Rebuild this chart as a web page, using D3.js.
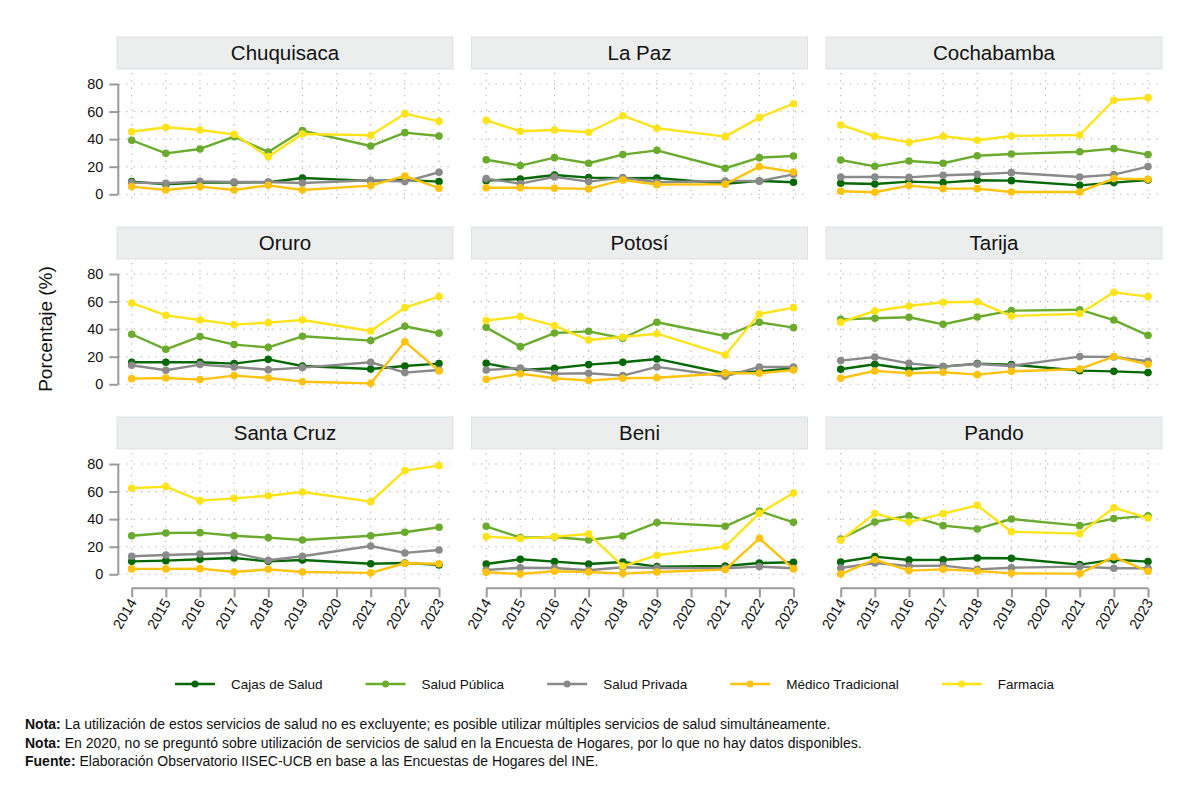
<!DOCTYPE html>
<html><head><meta charset="utf-8">
<script src="https://cdn.jsdelivr.net/npm/d3@7"></script>
<style>
body{margin:0;background:#fff;}
svg{font-family:"Liberation Sans",Arial,sans-serif;}
</style></head><body>
<svg id="chart" width="1200" height="801"></svg>
<script>
const years = [2014,2015,2016,2017,2018,2019,2021,2022,2023];
const axisYears = [2014,2015,2016,2017,2018,2019,2020,2021,2022,2023];
const yTicks = [0,20,40,60,80];
const departments = ["Chuquisaca","La Paz","Cochabamba","Oruro","Potosí","Tarija","Santa Cruz","Beni","Pando"];
const seriesNames = ["Cajas de Salud","Salud Pública","Salud Privada","Médico Tradicional","Farmacia"];
const seriesColors = ["#066806","#6aab2e","#8a8a8a","#ffc20e","#ffe31a"];

// values per department, order of years as above
const cajasDeSalud = [
  [9.2,7.3,8.5,8.5,8.7,11.8,9.7,10.4,9.2],
  [9.9,11.1,14.0,12.1,11.6,11.8,7.7,9.7,8.7],
  [8.0,7.5,9.2,8.5,10.2,9.9,6.5,8.5,10.4],
  [16.0,16.0,16.0,15.0,18.1,13.3,11.1,13.3,15.0],
  [15.2,10.4,11.6,14.3,16.0,18.4,8.0,9.4,11.6],
  [10.9,14.5,10.9,12.8,15.0,14.3,9.9,9.4,8.5],
  [9.4,9.9,10.9,11.8,9.4,10.4,7.7,8.2,6.8],
  [7.5,10.9,9.2,7.5,8.9,5.6,6.0,8.2,8.7],
  [8.9,12.8,10.4,10.6,11.8,11.6,7.0,10.6,9.2]
];
const saludPublica = [
  [39.2,29.7,32.9,41.8,30.7,46.2,35.0,44.7,42.3],
  [25.1,20.8,26.6,22.5,28.8,31.9,18.9,26.6,27.8],
  [24.9,20.3,24.2,22.5,28.0,29.2,30.9,33.1,28.8],
  [36.3,25.4,34.6,28.8,26.8,34.8,31.7,42.1,37.0],
  [41.3,27.3,37.2,38.4,33.4,45.0,35.0,45.0,41.1],
  [47.1,47.9,48.6,43.5,48.8,53.4,54.1,46.6,35.5],
  [28.0,30.0,30.2,28.0,26.6,24.9,28.0,30.5,34.1],
  [34.8,26.6,27.1,24.9,27.8,37.5,34.8,45.9,37.7],
  [25.6,37.9,42.5,35.3,32.9,40.1,35.3,40.4,42.5]
];
const saludPrivada = [
  [8.5,8.0,9.4,8.9,8.9,8.2,10.2,9.2,16.0],
  [11.4,7.7,12.6,9.2,12.1,8.7,9.7,9.7,14.5],
  [12.6,12.6,12.3,13.8,14.5,15.7,12.6,14.3,20.1],
  [13.8,10.2,14.3,12.6,10.6,12.1,16.0,8.5,10.4],
  [10.4,11.8,7.7,8.0,6.3,12.6,5.8,12.6,12.6],
  [17.2,19.8,15.2,12.8,14.7,13.3,20.1,19.8,16.7],
  [13.1,14.0,14.7,15.5,10.2,13.1,20.5,15.5,17.6],
  [3.1,4.8,4.6,2.9,5.1,4.6,4.4,5.6,4.4],
  [4.6,8.2,6.0,6.3,3.6,4.8,5.6,4.4,4.4]
];
const medicoTradicional = [
  [5.6,3.1,5.6,3.1,6.5,3.1,6.3,13.3,4.4],
  [4.8,4.8,4.4,3.9,10.4,7.0,7.3,20.1,16.2],
  [2.2,1.5,6.3,4.1,4.1,1.7,1.7,11.4,10.9],
  [4.1,4.6,3.4,6.3,4.6,1.9,0.7,30.9,9.7],
  [3.6,7.7,4.4,2.7,4.4,4.8,8.0,8.0,10.4],
  [4.4,9.7,8.0,8.7,7.0,9.4,11.1,20.1,14.5],
  [3.9,3.9,4.1,1.7,3.6,1.7,1.0,8.0,7.7],
  [1.5,0.2,2.2,1.7,0.5,1.7,3.4,26.1,3.9],
  [0.2,10.6,2.7,3.6,2.4,0.7,0.5,12.6,2.2]
];
const farmacia = [
  [45.4,48.6,46.6,43.5,27.3,43.7,42.8,58.5,52.9],
  [53.7,45.7,46.6,45.0,57.0,47.9,41.8,55.6,65.7],
  [50.3,42.1,37.7,42.1,39.2,42.3,43.0,68.2,70.1],
  [59.0,50.0,46.6,43.3,44.7,46.6,38.7,55.6,63.6],
  [46.2,49.1,42.5,32.1,34.3,36.7,21.3,51.0,55.6],
  [45.0,53.2,56.8,59.5,59.9,49.5,51.2,66.7,63.6],
  [62.4,63.6,53.4,55.1,57.0,59.7,52.7,75.2,78.8],
  [27.3,25.9,27.3,29.2,6.0,13.8,20.1,44.2,59.0],
  [24.7,44.0,37.9,44.0,50.0,30.9,29.5,48.3,40.8]
];
const seriesData = [cajasDeSalud, saludPublica, saludPrivada, medicoTradicional, farmacia];

const notes = [
  ["Nota:", " La utilización de estos servicios de salud no es excluyente; es posible utilizar múltiples servicios de salud simultáneamente."],
  ["Nota:", " En 2020, no se preguntó sobre utilización de servicios de salud en la Encuesta de Hogares, por lo que no hay datos disponibles."],
  ["Fuente:", " Elaboración Observatorio IISEC-UCB en base a las Encuestas de Hogares del INE."]
];

const svg = d3.select("#chart");
const panelW = 336, colLefts = [117, 471.5, 826];
const headerTops = [37, 227, 417], headerH = 32;
const x = d3.scaleLinear().domain([2014, 2023]).range([14.7, 322]);
const y = d3.scaleLinear().domain([0, 80]).range([157.3, 47]); // relative to header top
const plotTop = headerH + 1, plotBottom = 164;
const FONT = '"Liberation Sans",Arial,sans-serif';

departments.forEach((dep, i) => {
  const col = i % 3, row = Math.floor(i / 3);
  const g = svg.append("g").attr("transform", `translate(${colLefts[col]},${headerTops[row]})`);
  // header
  g.append("rect").attr("x", 0).attr("y", 0).attr("width", panelW).attr("height", headerH)
    .attr("fill", "#eceeee").attr("stroke", "#d9e3e6").attr("stroke-width", 1);
  g.append("text").attr("x", panelW / 2).attr("y", headerH / 2 + 7).attr("text-anchor", "middle")
    .attr("font-size", 20.5).attr("fill", "#111").text(dep);
  // grid
  const grid = g.append("g").attr("stroke", "#b4b4b4").attr("stroke-width", 1.1).attr("stroke-dasharray", "1.3,6");
  yTicks.forEach(t => grid.append("line").attr("x1", 2).attr("x2", panelW - 1).attr("y1", y(t)).attr("y2", y(t)));
  axisYears.forEach(t => grid.append("line").attr("x1", x(t)).attr("x2", x(t)).attr("y1", plotTop + 3).attr("y2", plotBottom));
  // y axis for left column
  if (col === 0) {
    const ax = g.append("g").attr("transform", "translate(1.3,0)")
      .call(d3.axisLeft(y).tickValues(yTicks).tickSize(9).tickPadding(6));
    ax.select(".domain").attr("stroke", "#9a9a9a").attr("stroke-width", 2);
    ax.selectAll(".tick line").attr("stroke", "#9a9a9a").attr("stroke-width", 2);
    ax.selectAll(".tick text").attr("font-size", 14.5).attr("fill", "#111").attr("font-family", FONT);
    ax.select(".domain").attr("d", `M0,${y(80)}V${y(0)}`);
  }
  // x axis for bottom row
  if (row === 2) {
    const ax = g.append("g").attr("transform", `translate(0,${plotBottom + 7.3})`)
      .call(d3.axisBottom(x).tickValues(axisYears).tickFormat(d3.format("d")).tickSize(9).tickSizeOuter(0));
    ax.select(".domain").attr("stroke", "#9a9a9a").attr("stroke-width", 2)
      .attr("d", `M${x(2014)},0H${x(2023)}`);
    ax.selectAll(".tick line").attr("stroke", "#9a9a9a").attr("stroke-width", 2);
    ax.selectAll(".tick text").attr("font-size", 14.5).attr("fill", "#111").attr("font-family", FONT)
      .attr("text-anchor", "end").attr("dy", null).attr("y", 0)
      .attr("transform", "translate(5,14) rotate(-60)");
  }
  // series
  const line = d3.line().x(d => x(d[0])).y(d => y(d[1]));
  seriesData.forEach((sd, s) => {
    const pts = years.map((yr, k) => [yr, sd[i][k]]);
    g.append("path").datum(pts).attr("d", line).attr("fill", "none")
      .attr("stroke", seriesColors[s]).attr("stroke-width", 2.4).attr("stroke-linejoin", "round");
    g.append("g").selectAll("circle").data(pts).join("circle")
      .attr("cx", d => x(d[0])).attr("cy", d => y(d[1])).attr("r", 3.8).attr("fill", seriesColors[s]);
  });
});

// y axis title
svg.append("text").attr("transform", "translate(52,329) rotate(-90)").attr("text-anchor", "middle")
  .attr("font-size", 19).attr("fill", "#111").text("Porcentaje (%)");

// legend
const leg = svg.append("g").attr("transform", "translate(175,684)");
let lx = 0;
seriesNames.forEach((name, s) => {
  const it = leg.append("g").attr("transform", `translate(${lx},0)`);
  it.append("line").attr("x1", 0).attr("x2", 40).attr("stroke", seriesColors[s]).attr("stroke-width", 2.4);
  it.append("circle").attr("cx", 20).attr("r", 3.5).attr("fill", seriesColors[s]);
  const t = it.append("text").attr("x", 56).attr("y", 5).attr("font-size", 13.5).attr("fill", "#111").text(name);
  lx += 56 + t.node().getComputedTextLength() + 43;
});

// notes
notes.forEach((n, k) => {
  const t = svg.append("text").attr("x", 25).attr("y", 729 + k * 18.5).attr("font-size", 14).attr("fill", "#111");
  t.append("tspan").attr("font-weight", "bold").text(n[0]);
  t.append("tspan").text(n[1]);
});
</script>
</body></html>
